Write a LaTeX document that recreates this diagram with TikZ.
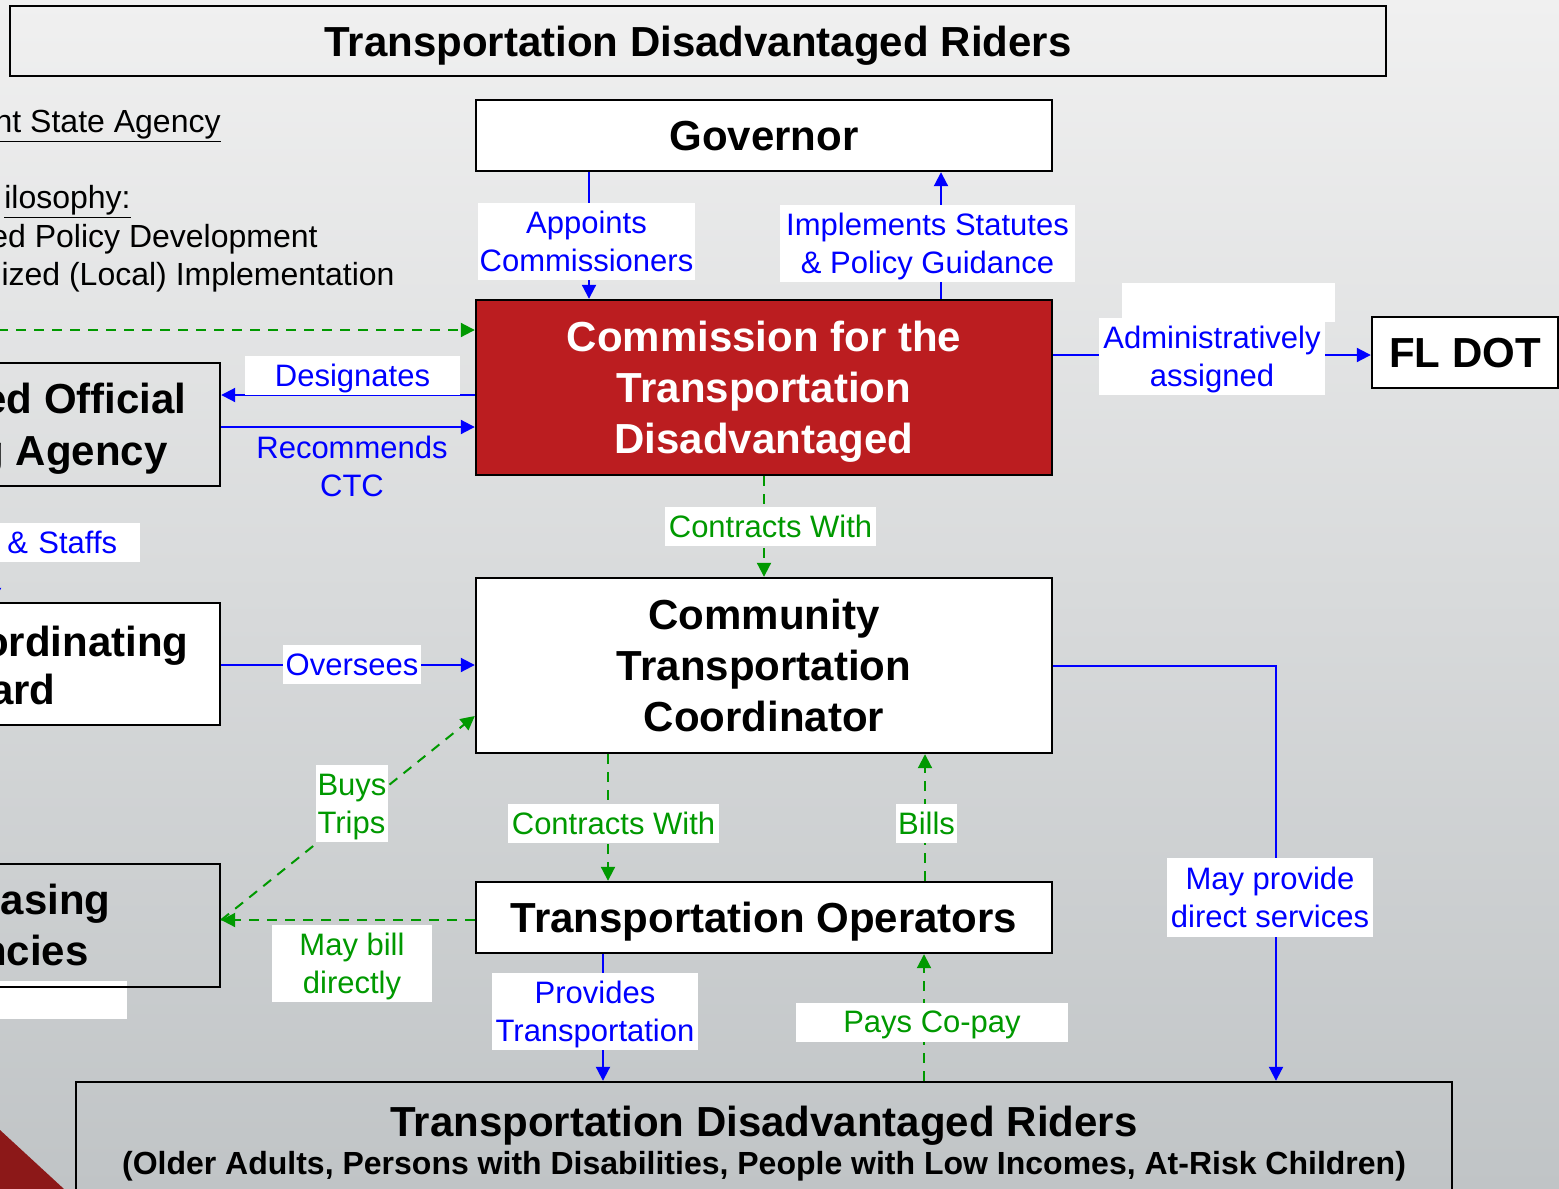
\documentclass[tikz,border=0pt]{standalone}
\usepackage{fontspec}
\setmainfont{Liberation Sans}
\usetikzlibrary{arrows.meta}

\definecolor{blau}{RGB}{0,0,255}
\definecolor{gruen}{RGB}{0,153,0}
\definecolor{kommrot}{RGB}{187,29,32}
\definecolor{eckrot}{RGB}{140,24,24}
\definecolor{hgoben}{RGB}{240,240,240}
\definecolor{hgunten}{RGB}{192,196,198}

\newcommand{\boxschrift}{\fontsize{21}{25.5}\selectfont\bfseries}
\newcommand{\etikettschrift}{\fontsize{15.5}{19}\selectfont}

\begin{document}
\begin{tikzpicture}[x=0.5pt, y=-0.5pt]
  % Hintergrund.
  \useasboundingbox (0,0) rectangle (1559,1189);
  \shade[top color=hgoben, bottom color=hgunten] (0,0) rectangle (1559,1189);
  \fill[eckrot] (0,1130) -- (64,1189) -- (0,1189) -- cycle;

  % Stile.
  \tikzstyle{kasten}=[draw, line width=1.2pt, fill=white, align=center, font=\boxschrift, text depth=0pt, inner sep=0pt]
  \tikzstyle{offen}=[kasten, fill=none]
  \tikzstyle{bruch}=[anchor=base east, inner sep=0pt, font=\boxschrift]
  \tikzstyle{randtext}=[anchor=base east, inner sep=0pt, font=\fontsize{16}{19}\selectfont]
  \tikzstyle{etikett}=[fill=white, inner xsep=1pt, inner ysep=0pt, align=center, font=\etikettschrift, text depth=0pt, minimum height=19.5pt]
  \tikzstyle{blauetikett}=[etikett, text=blau]
  \tikzstyle{gruenetikett}=[etikett, text=gruen]
  \tikzstyle{blaupfeil}=[blau, line width=1pt, -{Triangle[length=7pt,width=7pt]}]
  \tikzstyle{gruenpfeil}=[gruen, line width=1pt, dash pattern=on 5pt off 4pt, -{Triangle[length=7pt,width=7pt]}]

  % Leere Felder.
  \node[fill=white, minimum width=106.5pt, minimum height=19.5pt] (leer1) at (1228.5,302.5) {};
  \node[fill=white, minimum width=63.5pt, minimum height=19pt] (leer2) at (63.5,1000) {};

  % Kaesten.
  \node[offen, minimum width=688pt, minimum height=35pt] (titel) at (698,41) {Transportation Disadvantaged Riders};
  \node[kasten, minimum width=288pt, minimum height=35.5pt] (gov) at (764,135.5) {Governor};
  \node[kasten, fill=kommrot, text=white, minimum width=288pt, minimum height=87.5pt] (ctd) at (764,387.5) {Commission for the\\Transportation\\Disadvantaged};
  \node[kasten, minimum width=93pt, minimum height=35.5pt] (fldot) at (1465,352.5) {FL DOT};
  \node[kasten, minimum width=288pt, minimum height=87.5pt] (ctc) at (764,665.5) {Community\\Transportation\\Coordinator};
  \node[kasten, minimum width=288pt, minimum height=35.5pt] (ops) at (764,917.5) {Transportation Operators};
  \node[offen, minimum width=688pt, minimum height=58.7pt, font=\fontsize{21}{19}\selectfont\bfseries] (riders) at (764,1140.7) {Transportation Disadvantaged Riders\\{\fontsize{16}{19}\selectfont (Older Adults, Persons with Disabilities, People with Low Incomes, At-Risk Children)}};
  \node[offen, minimum width=125pt, minimum height=61.5pt] (dopa) at (95,424.5) {};
  \node[kasten, minimum width=125pt, minimum height=61pt] (lcb) at (95,664) {};
  \node[offen, minimum width=125pt, minimum height=61.5pt] (pa) at (95,925.5) {};

  % Abgeschnittene Beschriftungen.
  \node[bruch] (dopa1) at (187,413) {ed Official};
  \node[bruch] (dopa2) at (168,465) {g Agency};
  \node[bruch] (lcb1) at (189,656) {ordinating};
  \node[bruch] (lcb2) at (56,704) {ard};
  \node[bruch] (pa1) at (111,914) {asing};
  \node[bruch] (pa2) at (89,965) {ncies};

  \node[randtext] (agentur) at (221,132) {\underline{nt State Agency}};
  \node[randtext] (philo) at (131,208) {\underline{ilosophy:}};
  \node[randtext] (politik) at (318,247) {ed Policy Development};
  \node[randtext] (lokal) at (395,285) {lized (Local) Implementation};

  % Verbindungen.
  \coordinate (xappl) at (589,0);
  \coordinate (ximpl) at (941,0);
  \coordinate (yadmin) at (0,355);
  \coordinate (ydes) at (0,395);
  \coordinate (yrec) at (0,427);
  \coordinate (ylinks) at (-20,330);
  \coordinate (xctw) at (764,0);
  \coordinate (yover) at (0,665);
  \coordinate (ybuy) at (0,716);
  \coordinate (ybill) at (0,920);
  \coordinate (xctw2) at (608,0);
  \coordinate (xbills) at (925,0);
  \coordinate (xprov) at (603,0);
  \coordinate (xpay) at (924,0);
  \coordinate (ecke) at (1276,666);
  \coordinate (xstab) at (-6,0);

  \draw[blaupfeil] (gov.south -| xappl) -- (ctd.north -| xappl);
  \draw[blaupfeil] (ctd.north -| ximpl) -- (gov.south -| ximpl);
  \draw[blaupfeil] (ctd.east |- yadmin) -- (fldot.west |- yadmin);
  \draw[blaupfeil] (ctd.west |- ydes) -- (dopa.east |- ydes);
  \draw[blaupfeil] (dopa.east |- yrec) -- (ctd.west |- yrec);
  \draw[blaupfeil] (dopa.south -| xstab) -- (lcb.north -| xstab);
  \draw[gruenpfeil] (ylinks) -- (ctd.west |- ylinks);
  \draw[gruenpfeil] (ctd.south -| xctw) -- (ctc.north -| xctw);
  \draw[blaupfeil] (lcb.east |- yover) -- (ctc.west |- yover);
  \draw[gruenpfeil] (pa.east |- ybill) -- (ctc.west |- ybuy);
  \draw[gruenpfeil] (ops.west |- ybill) -- (pa.east |- ybill);
  \draw[gruenpfeil] (ctc.south -| xctw2) -- (ops.north -| xctw2);
  \draw[gruenpfeil] (ops.north -| xbills) -- (ctc.south -| xbills);
  \draw[blaupfeil] (ops.south -| xprov) -- (riders.north -| xprov);
  \draw[gruenpfeil] (riders.north -| xpay) -- (ops.south -| xpay);
  \draw[blaupfeil] (ctc.east |- ecke) -| (riders.north -| ecke);

  % Beschriftungen.
  \node[blauetikett, minimum height=38.5pt] (appl) at (586.5,241) {Appoints\\Commissioners};
  \node[blauetikett, minimum width=147.5pt, minimum height=38.5pt] (impl) at (927.5,243.5) {Implements Statutes\\\& Policy Guidance};
  \node[blauetikett, minimum width=113pt, minimum height=38.5pt] (admin) at (1212,356.5) {Administratively\\assigned};
  \node[blauetikett, minimum width=107.5pt] (desig) at (352.5,375.5) {Designates};
  \node[blauetikett, fill=none] (recom) at (352,466) {Recommends\\CTC};
  \node[blauetikett, anchor=west, inner xsep=3.5pt, text width=63pt, align=left] (staffs) at (0,542.5) {\& Staffs};
  \node[gruenetikett, minimum width=105.5pt] (ctw1) at (770.5,526.5) {Contracts With};
  \node[blauetikett, minimum width=69pt] (overs) at (352,664.5) {Oversees};
  \node[gruenetikett, minimum width=36pt, minimum height=38.5pt, align=left] (buys) at (352,803.5) {Buys\\Trips};
  \node[gruenetikett, minimum width=80pt, minimum height=38.5pt] (mbill) at (352,963.5) {May bill\\directly};
  \node[gruenetikett, minimum width=105.5pt] (ctw2) at (613.5,823) {Contracts With};
  \node[gruenetikett, minimum width=29.5pt] (bills) at (926.5,823) {Bills};
  \node[blauetikett, minimum width=103pt, minimum height=38.5pt] (prov) at (595,1011.5) {Provides\\Transportation};
  \node[gruenetikett, minimum width=136pt] (copay) at (932,1022) {Pays Co-pay};
  \node[blauetikett, minimum width=103pt, minimum height=39.5pt] (direct) at (1270,897.5) {May provide\\direct services};
\end{tikzpicture}
\end{document}
